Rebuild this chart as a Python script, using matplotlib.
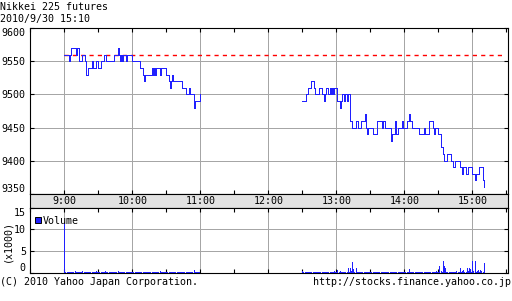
import matplotlib
matplotlib.use("Agg")
import matplotlib.pyplot as plt
import numpy as np
from matplotlib.patches import Rectangle
from matplotlib.transforms import blended_transform_factory

# ---------------- data (minutes after 9:00) ----------------
title = "Nikkei 225 futures"
stamp = "2010/9/30 15:10"
prev_close = 9560

am_t = [0, 4, 5, 6, 10, 11, 13, 16, 18, 19, 21, 24, 25, 28, 30, 32, 35, 37, 44,
        47, 48, 49, 50, 51, 52, 54, 55, 60, 67, 69, 70, 71, 77, 78, 79, 80, 81,
        84, 85, 90, 92, 93, 94, 95, 96, 104, 107, 110, 111, 114, 115, 120]
am_p = [9560, 9550, 9560, 9570, 9560, 9570, 9550, 9560, 9550, 9530, 9540, 9550,
        9540, 9550, 9540, 9550, 9560, 9550, 9560, 9570, 9560, 9550, 9560, 9550,
        9560, 9550, 9560, 9550, 9540, 9530, 9520, 9530, 9540, 9530, 9540, 9530,
        9540, 9530, 9540, 9530, 9520, 9510, 9520, 9530, 9520, 9510, 9500, 9510,
        9500, 9480, 9490, 9500]

pm_t = [210, 213, 215, 218, 220, 221, 225, 227, 229, 230, 231, 233, 234, 235,
        236, 237, 238, 241, 243, 244, 245, 247, 248, 249, 250, 252, 254, 257,
        259, 262, 265, 266, 267, 268, 272, 276, 280, 281, 283, 288, 289, 292,
        293, 294, 298, 299, 302, 304, 305, 307, 313, 317, 318, 322, 325, 326,
        327, 330, 332, 334, 335, 338, 341, 343, 345, 349, 351, 352, 354, 356,
        360, 362, 363, 366, 369.5, 370.5]
pm_p = [9490, 9500, 9510, 9520, 9510, 9500, 9510, 9500, 9490, 9500, 9510, 9500,
        9510, 9500, 9510, 9500, 9510, 9490, 9480, 9490, 9500, 9490, 9500, 9490,
        9500, 9460, 9450, 9460, 9450, 9460, 9470, 9450, 9440, 9450, 9440, 9460,
        9450, 9460, 9450, 9430, 9440, 9460, 9440, 9450, 9460, 9450, 9460, 9470,
        9460, 9450, 9440, 9450, 9440, 9460, 9450, 9440, 9450, 9440, 9420, 9410,
        9400, 9410, 9400, 9390, 9400, 9390, 9380, 9390, 9380, 9390, 9380, 9370,
        9380, 9390, 9370, 9360]

# volume (x1000) per minute, 9:00-10:59 and 12:30-15:10
vol_am = [11.4,
          0.3, 0.2, 0.4, 0.3, 0.3, 0.2, 0.4, 0.3, 0.5, 0.3,
          0.2, 0.3, 0.4, 0.3, 0.2, 0.5, 0.3, 0.3, 0.2, 0.4,
          0.3, 0.2, 0.3, 0.4, 0.3, 0.2, 0.3, 0.5, 0.3, 0.2,
          0.4, 0.3, 0.3, 0.2, 0.3, 0.6, 0.3, 0.2, 0.4, 0.3,
          0.2, 0.3, 0.3, 0.4, 0.2, 0.3, 0.5, 0.3, 0.2, 0.3,
          0.4, 0.3, 0.2, 0.3, 0.4, 0.2, 0.3, 0.3, 0.2, 0.4,
          0.3, 0.2, 0.3, 0.3, 0.2, 0.3, 0.4, 0.2, 0.3, 0.3,
          0.2, 0.3, 0.4, 0.2, 0.3, 0.3, 0.2, 0.3, 0.4, 0.3,
          0.2, 0.3, 0.3, 0.5, 0.2, 0.3, 0.3, 0.2, 0.4, 0.3,
          0.3, 0.2, 0.3, 0.4, 0.2, 0.3, 0.3, 0.2, 0.3, 0.4,
          0.3, 0.2, 0.3, 0.3, 0.2, 0.4, 0.3, 0.2, 0.3, 0.3,
          0.2, 0.3, 0.4, 0.7, 0.3, 0.2, 0.3, 0.4, 0.3]
vol_pm = [0.5, 0.2, 0.3, 0.2, 0.4, 0.3, 0.2, 0.3, 0.4, 0.3,
          0.2, 0.3, 0.3, 0.4, 0.2, 0.3, 0.3, 0.2, 0.4, 0.3,
          0.3, 0.2, 0.3, 0.4, 0.3, 0.2, 0.3, 0.3, 0.5, 0.3,
          0.3, 0.7, 0.3, 0.5, 0.3, 0.2, 0.4, 0.3, 0.3, 0.2,
          1.1, 0.3, 1.1, 0.5, 2.6, 1.0, 0.4, 1.2, 0.3, 0.4,
          0.3, 0.4, 0.3, 0.2, 0.4, 0.3, 0.3, 0.4, 0.2, 0.3,
          0.4, 0.3, 0.3, 0.2, 0.4, 0.3, 0.3, 0.2, 0.4, 0.3,
          0.3, 0.4, 0.2, 0.3, 0.3, 0.2, 0.4, 0.3, 0.2, 0.3,
          0.4, 0.3, 0.2, 0.3, 0.3, 0.4, 0.2, 0.3, 0.3, 0.4,
          0.3, 0.2, 0.3, 0.4, 1.0, 0.3, 0.3, 0.2, 0.4, 0.3,
          0.3, 0.2, 0.3, 0.4, 0.3, 0.2, 0.3, 0.3, 0.2, 0.4,
          0.3, 0.3, 0.2, 0.4, 0.3, 0.3, 0.2, 0.4, 0.5, 0.3,
          0.4, 1.7, 0.5, 0.3, 2.9, 1.6, 1.1, 0.4, 0.3, 0.3,
          0.2, 0.4, 0.3, 0.3, 0.4, 0.3, 0.5, 0.3, 0.4, 1.2,
          0.4, 0.5, 0.8, 0.4, 0.3, 1.1, 0.5, 1.1, 0.9, 0.4,
          2.7, 0.5, 2.9, 0.4, 0.5, 0.7, 0.4, 0.7, 0.6, 0.4,
          2.3]
am_start, pm_start = 0, 210

hour_labels = ["9:00", "10:00", "11:00", "12:00", "13:00", "14:00", "15:00"]
hour_pos = [0, 60, 120, 180, 240, 300, 360]
half_pos = [-30, 30, 90, 150, 210, 270, 330, 390]
price_ticks = [9350, 9400, 9450, 9500, 9550, 9600]
vol_ticks = [0, 5, 10, 15]

# ---------------- style ----------------
W, H = 512, 301
FONT = "DejaVu Sans Mono"
FS = 7.2
BLUE = "#2020ff"
GRID = "#a6a6a6"
PX = 0.72  # one pixel in points
plt.rcParams["font.family"] = FONT
plt.rcParams["font.size"] = FS

fig = plt.figure(figsize=(W / 100, H / 100), dpi=100)
fig.patch.set_facecolor("white")


def rect(l, t, r, b):
    return [l / W, 1 - b / H, (r - l) / W, (b - t) / H]


XL = (-30.3, 391)
ax = fig.add_axes(rect(30, 28.3, 507.5, 193.7))
band = fig.add_axes(rect(30, 193.7, 507.5, 207.5))
axv = fig.add_axes(rect(30, 207.5, 507.5, 273.3))

for a in (ax, band, axv):
    a.set_xlim(*XL)
    for s in a.spines.values():
        s.set_linewidth(0.8)
        s.set_color("black")

# price panel
ax.set_ylim(9350, 9600)
ax.set_yticks(price_ticks)
ax.set_xticks(hour_pos)
ax.set_xticks(half_pos, minor=True)
ax.grid(True, which="major", color=GRID, lw=PX, antialiased=False)
ax.set_axisbelow(True)
ax.tick_params(which="both", direction="in", top=True, right=True,
               length=3, width=0.8, labelbottom=False, pad=3,
               labelsize=FS)
ax.hlines(prev_close, 0, 387, colors="#ff0000", lw=1.0,
          linestyles=(0, (3.0, 3.0)), zorder=2)
ax.step(am_t, am_p, where="post", color=BLUE, lw=PX, zorder=3,
        antialiased=False)
ax.step(pm_t, pm_p, where="post", color=BLUE, lw=PX, zorder=3,
        antialiased=False)
labs = ax.get_yticklabels()
labs[0].set_va("bottom")
labs[-1].set_va("top")

# time band
band.set_facecolor("#e2e2e2")
band.set_xticks([])
band.set_yticks([])
tr = blended_transform_factory(band.transData, band.transAxes)
for lab, pos in zip(hour_labels, hour_pos):
    band.text(pos, 0.45, lab, transform=tr, ha="center", va="center",
              fontsize=FS)

# volume panel
axv.set_ylim(0, 15)
axv.set_yticks(vol_ticks)
axv.set_xticks(hour_pos)
axv.set_xticks(half_pos, minor=True)
axv.grid(True, which="major", color=GRID, lw=PX, antialiased=False)
axv.set_axisbelow(True)
axv.tick_params(which="both", direction="in", top=True, right=True,
                length=3, width=0.8, labelbottom=False, pad=3,
                labelsize=FS)
t_am = np.arange(len(vol_am)) + am_start
t_pm = np.arange(len(vol_pm)) + pm_start
axv.vlines(t_am, 0, vol_am, colors=BLUE, lw=PX, zorder=3, antialiased=False)
axv.vlines(t_pm, 0, vol_pm, colors=BLUE, lw=PX, zorder=3, antialiased=False)
vl = axv.get_yticklabels()
vl[0].set_va("bottom")
vl[-1].set_va("top")

fig.text(7 / W, 1 - 241 / H, "(x1000)", rotation=90, ha="center",
         va="center", fontsize=FS)
fig.add_artist(Rectangle((35 / W, 1 - 223 / H), 6 / W, 6 / H,
                         transform=fig.transFigure, fc=BLUE, ec="black",
                         lw=0.7))
fig.text(43 / W, 1 - 220.5 / H, "Volume", ha="left", va="center",
         fontsize=FS)

# header / footer
fig.text(0, 1 - 7 / H, title, ha="left", va="center", fontsize=FS)
fig.text(0, 1 - 19 / H, stamp, ha="left", va="center", fontsize=FS)
fig.text(0, 1 - 282 / H, "(C) 2010 Yahoo Japan Corporation.", ha="left",
         va="center", fontsize=FS)
fig.text(511 / W, 1 - 282 / H, "http://stocks.finance.yahoo.co.jp",
         ha="right", va="center", fontsize=FS)

fig.savefig("out.png", dpi=100)
